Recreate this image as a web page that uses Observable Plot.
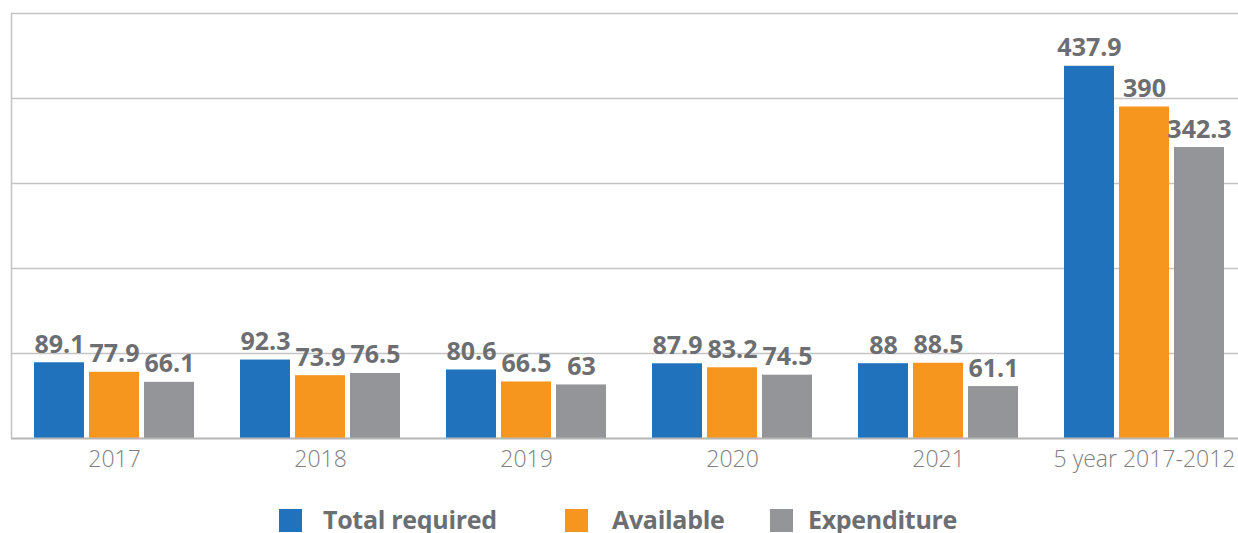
<!DOCTYPE html>
<html>
<head>
<meta charset="utf-8">
<script src="https://cdn.jsdelivr.net/npm/d3@7"></script>
<script src="https://cdn.jsdelivr.net/npm/@observablehq/plot@0.6"></script>
<style>
  html, body { margin: 0; padding: 0; background: #fff; }
  body { width: 1238px; height: 533px; overflow: hidden; font-family: "Open Sans", sans-serif; }
  #legend { position: relative; height: 38px; width: 1238px; }
  .sw { position: absolute; top: 14px; width: 23px; height: 23px; }
  .lb { position: absolute; top: 9px; font-size: 25px; font-weight: 700; color: #6d6e71; line-height: 30px; letter-spacing: -0.3px; white-space: nowrap; }
</style>
</head>
<body>
<div id="chart"></div>
<div id="legend"></div>
<script>
const years = ["2017", "2018", "2019", "2020", "2021", "5 year 2017-2012"];
const series = ["Total required", "Available", "Expenditure"];
const totalRequired = [89.1, 92.3, 80.6, 87.9, 88, 437.9];
const available = [77.9, 73.9, 66.5, 83.2, 88.5, 390];
const expenditure = [66.1, 76.5, 63, 74.5, 61.1, 342.3];
const colors = ["#1f72bb", "#f6961e", "#939598"];
const gridValues = [100, 200, 300, 400, 500];

const valuesBySeries = [totalRequired, available, expenditure];
const data = [];
years.forEach((year, i) => {
  series.forEach((s, j) => {
    data.push({year, series: s, value: valuesBySeries[j][i]});
  });
});

const labelColor = "#6d6e71";

const plot = Plot.plot({
  width: 1238,
  height: 495,
  marginLeft: 11,
  marginRight: 0,
  marginTop: 13,
  marginBottom: 57,
  style: {fontFamily: "'Open Sans', sans-serif", background: "#fff", overflow: "visible"},
  fx: {domain: years, range: [11, 1247], paddingInner: 0, paddingOuter: 0, label: null},
  x: {domain: series, paddingInner: 0.0909, paddingOuter: 0.418, axis: null},
  y: {domain: [0, 500], axis: null},
  color: {domain: series, range: colors},
  marks: [
    Plot.ruleY(gridValues, {stroke: "#c4c4c4", strokeWidth: 1.3}),
    Plot.barY(data, {fx: "year", x: "series", y: "value", fill: "series"}),
    Plot.ruleY([0], {stroke: "#b5b5b5", strokeWidth: 2}),
    Plot.frame({anchor: "left", stroke: "#c4c4c4", strokeWidth: 1.5, facetAnchor: "left"}),
    Plot.text(data, {
      fx: "year", x: "series", y: "value",
      text: d => String(d.value),
      lineAnchor: "bottom", dy: -10,
      fill: labelColor, fontSize: 25, fontWeight: 700
    }),
    Plot.axisFx({anchor: "bottom", tickSize: 0, tickPadding: 12, fontSize: 23, fontWeight: 300, color: "#808080", label: null})
  ]
});
document.getElementById("chart").appendChild(plot);

const legend = document.getElementById("legend");
const swatchLeft = [279, 565, 770];
const labelLeft = [323, 612, 808];
series.forEach((s, i) => {
  const sw = document.createElement("div");
  sw.className = "sw";
  sw.style.left = swatchLeft[i] + "px";
  sw.style.background = colors[i];
  legend.appendChild(sw);
  const lb = document.createElement("div");
  lb.className = "lb";
  lb.style.left = labelLeft[i] + "px";
  lb.textContent = s;
  legend.appendChild(lb);
});
</script>
</body>
</html>
